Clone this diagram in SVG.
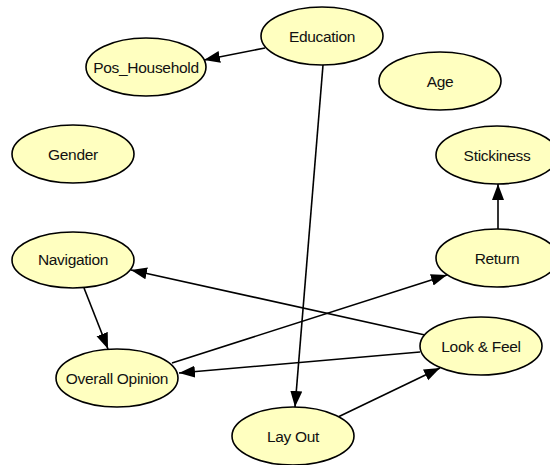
<svg xmlns="http://www.w3.org/2000/svg" width="550" height="465" viewBox="0 0 550 465">
<defs>
<style>
.node ellipse{fill:#FFFFC0;stroke:#000;stroke-width:1.6}
.node text{font-family:"Liberation Sans",Arial,sans-serif;font-size:15.5px;fill:#111;text-anchor:middle;dominant-baseline:central;letter-spacing:-0.3px}
.edges line{stroke:#000;stroke-width:1.6;marker-end:url(#arr)}
</style>
<marker id="arr" markerUnits="userSpaceOnUse" markerWidth="17" markerHeight="13" refX="16" refY="6.5" orient="auto" viewBox="0 0 17 13">
<path d="M0,0.5 L16,6.5 L0,12.5 z" fill="#000"/>
</marker>
</defs>
<rect width="550" height="465" fill="#fff"/>
<g class="edges">
<line x1="265" y1="48" x2="204" y2="60"/>
<line x1="323" y1="65" x2="295" y2="407"/>
<line x1="498" y1="229" x2="498" y2="184"/>
<line x1="425" y1="335" x2="131" y2="270"/>
<line x1="420" y1="352" x2="179" y2="373"/>
<line x1="172" y1="363" x2="447" y2="275"/>
<line x1="84" y1="288" x2="108" y2="349"/>
<line x1="338" y1="417" x2="440" y2="368"/>
</g>
<g id="education" class="node"><ellipse cx="322" cy="36" rx="61" ry="29"/><text x="322" y="36">Education</text></g>
<g id="pos_household" class="node"><ellipse cx="146" cy="67" rx="60" ry="29"/><text x="146" y="67">Pos_Household</text></g>
<g id="age" class="node"><ellipse cx="440" cy="81" rx="61" ry="29"/><text x="440" y="81">Age</text></g>
<g id="gender" class="node"><ellipse cx="73" cy="154" rx="61" ry="29"/><text x="73" y="154">Gender</text></g>
<g id="stickiness" class="node"><ellipse cx="497" cy="155" rx="61" ry="29"/><text x="497" y="155">Stickiness</text></g>
<g id="navigation" class="node"><ellipse cx="73" cy="260" rx="61" ry="28"/><text x="73" y="259">Navigation</text></g>
<g id="return" class="node"><ellipse cx="497" cy="258" rx="61" ry="29"/><text x="497" y="258">Return</text></g>
<g id="look_feel" class="node"><ellipse cx="481" cy="346" rx="61" ry="29"/><text x="481" y="346">Look &amp; Feel</text></g>
<g id="overall_opinion" class="node"><ellipse cx="117" cy="378" rx="61" ry="29"/><text x="117" y="378">Overall Opinion</text></g>
<g id="lay_out" class="node"><ellipse cx="293" cy="436" rx="61" ry="29"/><text x="293" y="436">Lay Out</text></g>
</svg>
